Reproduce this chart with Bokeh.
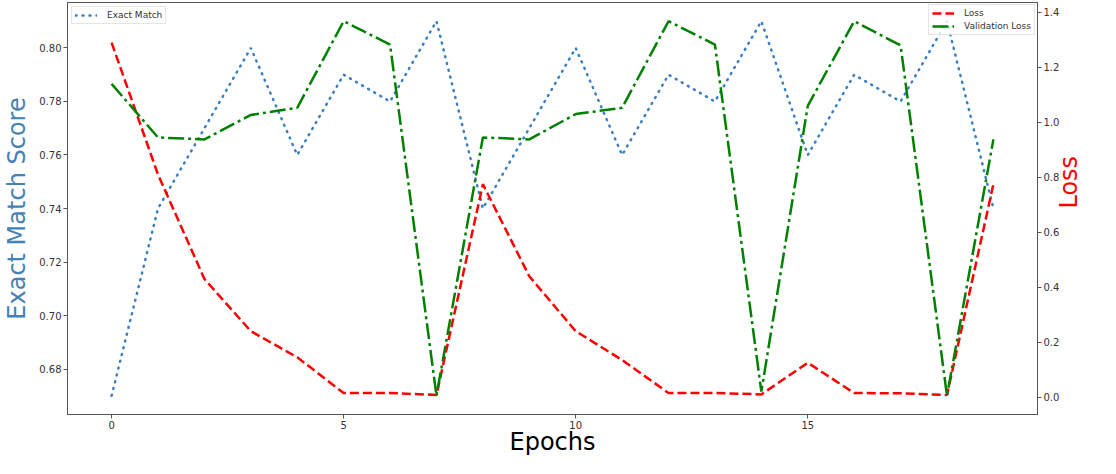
import math
from bokeh.plotting import figure
from bokeh.models import (LinearAxis, Range1d, Legend, LegendItem, FixedTicker,
                          PrintfTickFormatter)
from bokeh.embed import file_html
from bokeh.resources import INLINE

# ---- data ----
epochs = list(range(20))
exact_match = [0.67, 0.74, 0.77, 0.80, 0.76, 0.79, 0.78, 0.81, 0.74, 0.77,
               0.80, 0.76, 0.79, 0.78, 0.81, 0.76, 0.79, 0.78, 0.81, 0.74]
loss = [1.29, 0.81, 0.43, 0.24, 0.145, 0.015, 0.015, 0.008, 0.775, 0.44,
        0.24, 0.135, 0.015, 0.015, 0.01, 0.125, 0.015, 0.014, 0.008, 0.775]
val_loss = [1.14, 0.945, 0.938, 1.027, 1.053, 1.368, 1.283, 0.005, 0.945, 0.938,
            1.03, 1.053, 1.368, 1.283, 0.02, 1.06, 1.368, 1.28, 0.005, 0.938]
x_ticks = [0, 5, 10, 15]
left_ticks = [0.68, 0.70, 0.72, 0.74, 0.76, 0.78, 0.80]
right_ticks = [0.0, 0.2, 0.4, 0.6, 0.8, 1.0, 1.2, 1.4]


def pad(lo, hi, f=0.05):
    d = (hi - lo) * f
    return lo - d, hi + d


FONT = "DejaVu Sans"
SPINE = "#555555"
TICKC = "#333333"
BLUE = "#3a7fc0"

xr = Range1d(*pad(min(epochs), max(epochs)))
yr = Range1d(*pad(min(exact_match), max(exact_match)))
lr = Range1d(*pad(min(loss + val_loss), max(loss + val_loss)))

p = figure(width=1100, height=458, output_backend="svg", toolbar_location=None,
           x_range=xr, y_range=yr,
           min_border_left=0, min_border_right=0, min_border_top=2,
           min_border_bottom=0)
p.extra_y_ranges = {"loss": lr}
p.xgrid.visible = False
p.ygrid.visible = False
p.outline_line_color = SPINE
p.outline_line_width = 1
p.background_fill_color = "white"
p.border_fill_color = "white"


def style_axis(ax, label, color, standoff):
    ax.axis_label = label
    ax.axis_label_text_font = FONT
    ax.axis_label_text_font_size = "24px"
    ax.axis_label_text_font_style = "normal"
    ax.axis_label_text_color = color
    ax.axis_label_standoff = standoff
    ax.major_label_text_font = FONT
    ax.major_label_text_font_size = "10px"
    ax.major_label_text_color = TICKC
    ax.major_label_standoff = 2
    ax.major_tick_in = 0
    ax.major_tick_out = 4
    ax.major_tick_line_color = SPINE
    ax.minor_tick_line_color = None
    ax.axis_line_color = SPINE


xax = p.xaxis[0]
xax.ticker = FixedTicker(ticks=x_ticks)
xax.formatter = PrintfTickFormatter(format="%d")
style_axis(xax, "Epochs", "black", -4)

yax = p.yaxis[0]
yax.ticker = FixedTicker(ticks=left_ticks)
yax.formatter = PrintfTickFormatter(format="%.2f")
style_axis(yax, "Exact Match Score", "steelblue", 5)

rax = LinearAxis(y_range_name="loss", ticker=FixedTicker(ticks=right_ticks),
                 formatter=PrintfTickFormatter(format="%.1f"))
style_axis(rax, "Loss", "red", 7)
try:
    # read bottom-to-top like the reference
    rax.axis_label_orientation = math.pi / 2
except Exception:
    rax.axis_label_standoff = -4
p.add_layout(rax, "right")

r_em = p.line(epochs, exact_match, line_color=BLUE, line_width=2.5,
              line_dash="1 6", line_cap="round")
r_loss = p.line(epochs, loss, y_range_name="loss", line_color="red",
                line_width=2.5, line_dash="9 4")
r_val = p.line(epochs, val_loss, y_range_name="loss", line_color="green",
               line_width=2.5, line_dash="16 4 3 4")


def make_legend(items, loc, margin):
    return Legend(items=items, location=loc,
                  label_text_font=FONT, label_text_font_size="9px",
                  label_text_color="#333333",
                  glyph_width=22, glyph_height=10, label_height=10,
                  label_standoff=10, padding=3, spacing=3, margin=margin,
                  border_line_color="#cccccc", border_line_width=1,
                  background_fill_color="white", background_fill_alpha=0.8)


leg1 = make_legend([LegendItem(label="Exact Match", renderers=[r_em])],
                   "top_left", 4)
leg2 = make_legend([LegendItem(label="Loss", renderers=[r_loss]),
                    LegendItem(label="Validation Loss", renderers=[r_val])],
                   "top_right", 2)
p.add_layout(leg1)
p.add_layout(leg2)

open("out.html", "w").write(file_html(p, INLINE))
